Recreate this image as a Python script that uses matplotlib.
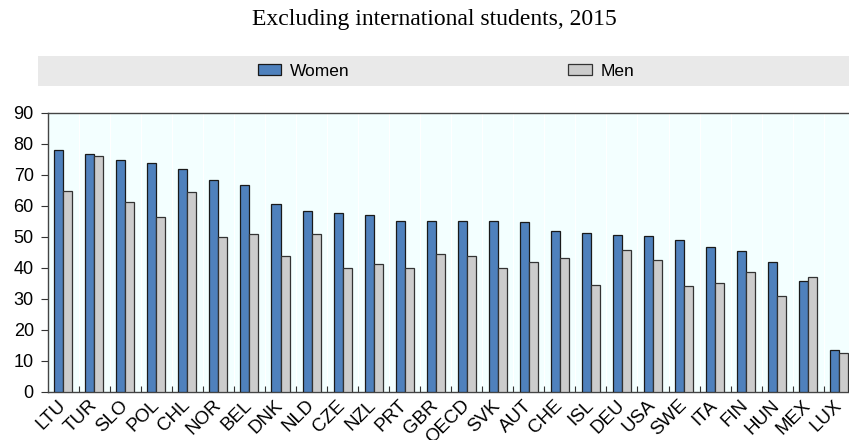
import matplotlib
matplotlib.use("Agg")
import matplotlib.pyplot as plt
from matplotlib.patches import Rectangle
import numpy as np

plt.rcParams['font.family'] = ['Liberation Sans', 'DejaVu Sans']

countries = ["LTU", "TUR", "SLO", "POL", "CHL", "NOR", "BEL", "DNK", "NLD", "CZE",
             "NZL", "PRT", "GBR", "OECD", "SVK", "AUT", "CHE", "ISL", "DEU", "USA",
             "SWE", "ITA", "FIN", "HUN", "MEX", "LUX"]
women = [77.9, 76.7, 74.8, 73.8, 71.9, 68.2, 66.7, 60.7, 58.2, 57.6,
         56.9, 55.0, 55.0, 55.0, 55.0, 54.6, 51.8, 51.3, 50.7, 50.1,
         48.8, 46.7, 45.4, 41.9, 35.7, 13.5]
men = [64.8, 76.1, 61.3, 56.4, 64.5, 49.8, 51.0, 43.9, 51.0, 39.8,
       41.1, 39.8, 44.4, 43.8, 39.8, 41.9, 43.1, 34.4, 45.7, 42.6,
       34.1, 35.0, 38.5, 31.0, 36.9, 12.5]
yticks = [0, 10, 20, 30, 40, 50, 60, 70, 80, 90]
title = "Excluding international students, 2015"

W, H = 849, 440
fig = plt.figure(figsize=(W / 100, H / 100), dpi=100)

# axes in pixel coords
left_px, right_px = 47.7, 47.7 + 26 * 31.04
top_px, bottom_px = 112.7, 391.7
ax = fig.add_axes([left_px / W, 1 - bottom_px / H,
                   (right_px - left_px) / W, (bottom_px - top_px) / H])
ax.set_facecolor('#F3FFFF')

x = np.arange(len(countries))
bw = 0.29
b1 = ax.bar(x - bw / 2, women, width=bw, color='#4F81BD', edgecolor='#1a1a1a',
            linewidth=0.9, label='Women', zorder=3)
b2 = ax.bar(x + bw / 2, men, width=bw, color='#CCCCCC', edgecolor='#333333',
            linewidth=0.9, label='Men', zorder=3)

ax.set_xlim(-0.5, len(countries) - 0.5)
ax.set_ylim(0, 90)
ax.set_yticks(yticks)
ax.set_yticklabels([str(v) for v in yticks], fontsize=13, color='#000000')
ax.tick_params(axis='y', direction='out', length=5, width=0.8, pad=5, colors='#333333',
               labelcolor='black')

# category boundaries ticks
bounds = np.arange(0.5, len(countries) - 0.5, 1)
ax.set_xticks(bounds, minor=True)
ax.set_xticks(x)
ax.set_xticklabels(countries, rotation=45, ha='right', va='center',
                   rotation_mode='anchor', fontsize=13.5)
ax.tick_params(axis='x', which='major', length=0, pad=8)
ax.tick_params(axis='x', which='minor', direction='in', length=4, width=0.8,
               colors='#333333')
for b in bounds:
    ax.axvline(b, color='white', linewidth=0.8, zorder=1)

for s in ['left', 'bottom', 'top']:
    ax.spines[s].set_color('#444444')
    ax.spines[s].set_linewidth(1.0)
ax.spines['right'].set_visible(False)

# legend band
fig.patches.append(Rectangle((38 / W, 1 - 86 / H), (W - 38) / W, 30.3 / H,
                             transform=fig.transFigure, facecolor='#E9E9E9',
                             edgecolor='none', zorder=0))
fig.legend(handles=[b1, b2], labels=['Women', 'Men'], ncol=2, frameon=False,
           loc='center', bbox_to_anchor=(446 / W, 1 - 71 / H),
           fontsize=12.5, handlelength=1.35, handleheight=0.65, handletextpad=0.5,
           columnspacing=12.6)

fig.text(434 / W, 1 - 19 / H, title, ha='center', va='center',
         fontsize=17, family='Liberation Serif')

fig.savefig('out.png', dpi=100)
